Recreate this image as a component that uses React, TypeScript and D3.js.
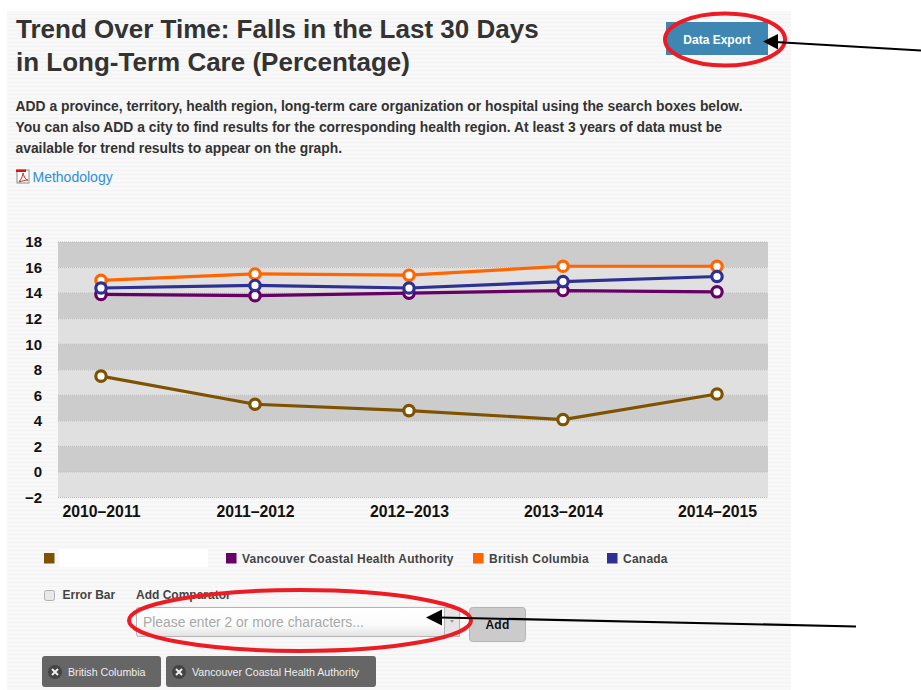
import { useEffect, useRef } from "react";
import * as d3 from "d3";

const years = ["2010–2011", "2011–2012", "2012–2013", "2013–2014", "2014–2015"];
const yTicks = [18, 16, 14, 12, 10, 8, 6, 4, 2, 0, -2];

const hiddenRegion = [7.5, 5.3, 4.8, 4.1, 6.1];
const vancouver = [13.9, 13.8, 14.0, 14.2, 14.1];
const britishColumbia = [15.0, 15.5, 15.4, 16.1, 16.1];
const canada = [14.4, 14.6, 14.4, 14.9, 15.3];

const seriesValues = [hiddenRegion, vancouver, britishColumbia, canada];
const seriesColors = ["#7f5200", "#660066", "#ff6600", "#2e3192"];

const legendNames = ["", "Vancouver Coastal Health Authority", "British Columbia", "Canada"];
const legendColors = ["#7f5200", "#660066", "#ff6600", "#2e3192"];
const legendX = [44, 226, 473, 607];

const introLines = [
  "ADD a province, territory, health region, long-term care organization or hospital using the search boxes below.",
  "You can also ADD a city to find results for the corresponding health region. At least 3 years of data must be",
  "available for trend results to appear on the graph.",
];
const titleLines = ["Trend Over Time: Falls in the Last 30 Days", "in Long-Term Care (Percentage)"];
const tagNames = ["British Columbia", "Vancouver Coastal Health Authority"];
const tagX = [42, 166];
const tagW = [119, 210];

const FONT = "'Liberation Sans', Arial, sans-serif";

export default function App() {
  const svgRef = useRef<SVGSVGElement>(null);

  useEffect(() => {
    if (!svgRef.current) return;
    const svg = d3.select(svgRef.current);
    svg.selectAll("*").remove();
    svg.style("font-family", FONT);

    const defs = svg.append("defs");

    // faint stripes of the page panel
    const stripes = defs
      .append("pattern")
      .attr("id", "stripes")
      .attr("width", 6)
      .attr("height", 4)
      .attr("patternUnits", "userSpaceOnUse");
    stripes.append("rect").attr("width", 6).attr("height", 4).attr("fill", "#f8f8f8");
    stripes.append("rect").attr("y", 2).attr("width", 6).attr("height", 1).attr("fill", "#f3f3f3");

    const inputGrad = defs.append("linearGradient").attr("id", "inputGrad").attr("x2", 0).attr("y2", 1);
    inputGrad.append("stop").attr("offset", "0%").attr("stop-color", "#ffffff");
    inputGrad.append("stop").attr("offset", "60%").attr("stop-color", "#fbfbfb");
    inputGrad.append("stop").attr("offset", "100%").attr("stop-color", "#e2e2e2");

    svg.append("rect").attr("x", 7).attr("y", 11).attr("width", 784).attr("height", 679).attr("fill", "url(#stripes)");

    // Title and intro
    titleLines.forEach((t, i) => {
      svg.append("text").attr("x", 16).attr("y", 38 + i * 33)
        .attr("font-size", 26).attr("font-weight", "bold").attr("fill", "#333").text(t);
    });
    introLines.forEach((t, i) => {
      svg.append("text").attr("x", 15.5).attr("y", 111 + i * 20.8)
        .attr("font-size", 13.86).attr("font-weight", "bold").attr("fill", "#333").text(t);
    });

    // pdf icon
    const pdf = svg.append("g").attr("transform", "translate(17,170)");
    pdf.append("rect").attr("width", 12).attr("height", 13).attr("fill", "#fff").attr("stroke", "#8a8a8a");
    pdf.append("rect").attr("x", -1).attr("y", -0.5).attr("width", 10).attr("height", 2.5).attr("fill", "#e01010");
    pdf.append("path").attr("d", "M2,12 C5,8 6,5 6,3 C7,7 9,10 11,10 C8,10 5,11 2,12 Z").attr("fill", "none").attr("stroke", "#d02020");
    svg.append("text").attr("x", 32.5).attr("y", 182).attr("font-size", 14).attr("fill", "#2f8fd8").text("Methodology");

    // Data export button
    svg.append("rect").attr("x", 666).attr("y", 22).attr("width", 102).attr("height", 33).attr("fill", "#3f87b3");
    svg.append("text").attr("x", 717).attr("y", 44).attr("text-anchor", "middle")
      .attr("font-size", 12).attr("font-weight", "bold").attr("fill", "#fff").text("Data Export");

    // Scales
    const x = d3.scalePoint<string>().domain(years).range([101, 717]);
    const y = d3.scaleLinear().domain([-2, 18]).range([497.5, 242]);

    // Plot bands
    const bands = yTicks.slice(0, -1);
    svg.append("g").selectAll("rect").data(bands).enter().append("rect")
      .attr("x", 58).attr("width", 710)
      .attr("y", (d) => y(d))
      .attr("height", (d) => y(d - 2) - y(d))
      .attr("fill", (d, i) => (i % 2 === 0 ? "#cccccc" : "#e0e0e0"));
    svg.append("g").selectAll("line").data(yTicks).enter().append("line")
      .attr("x1", 58).attr("x2", 768)
      .attr("y1", (d) => y(d)).attr("y2", (d) => y(d))
      .attr("stroke", "#b8b8b8").attr("stroke-dasharray", "1 1");

    // Axes
    const yAxis = svg.append("g").attr("transform", "translate(42,0)")
      .call(d3.axisLeft(y).tickValues(yTicks).tickSize(0).tickPadding(0).tickFormat(d3.format("d")));
    yAxis.select(".domain").remove();
    yAxis.selectAll("text").attr("font-family", FONT).attr("font-size", 15).attr("font-weight", "bold").attr("fill", "#111");

    const xAxis = svg.append("g").attr("transform", "translate(0,506)")
      .call(d3.axisBottom(x).tickSize(0).tickPadding(0));
    xAxis.select(".domain").remove();
    xAxis.selectAll("text").attr("font-family", FONT).attr("font-size", 15.8).attr("font-weight", "bold").attr("fill", "#111");

    // Lines and markers
    const line = d3.line<number>().x((_, i) => x(years[i]) as number).y((d) => y(d));
    seriesValues.forEach((values, s) => {
      const g = svg.append("g");
      g.append("path").attr("d", line(values)).attr("fill", "none")
        .attr("stroke", seriesColors[s]).attr("stroke-width", 3.2);
      g.selectAll("circle").data(values).enter().append("circle")
        .attr("cx", (_, i) => x(years[i]) as number)
        .attr("cy", (d) => y(d))
        .attr("r", 5.2).attr("fill", "#fff")
        .attr("stroke", seriesColors[s]).attr("stroke-width", 3.2);
    });

    // Legend
    legendNames.forEach((name, i) => {
      svg.append("rect").attr("x", legendX[i]).attr("y", 553).attr("width", 10.5).attr("height", 10.5).attr("fill", legendColors[i]);
      if (name) {
        svg.append("text").attr("x", legendX[i] + 16).attr("y", 563)
          .attr("font-size", 12).attr("font-weight", "bold").attr("letter-spacing", 0.24).attr("fill", "#444").text(name);
      }
    });
    svg.append("rect").attr("x", 59).attr("y", 549).attr("width", 149).attr("height", 18).attr("fill", "#fff");

    // Controls
    svg.append("rect").attr("x", 44.5).attr("y", 590.5).attr("width", 10).attr("height", 10).attr("rx", 2)
      .attr("fill", "#e8e8e8").attr("stroke", "#b0b0b0");
    svg.append("text").attr("x", 62.5).attr("y", 599).attr("font-size", 12).attr("font-weight", "bold").attr("fill", "#444").text("Error Bar");
    svg.append("text").attr("x", 136).attr("y", 599).attr("font-size", 12).attr("font-weight", "bold").attr("fill", "#444").text("Add Comparator");

    svg.append("rect").attr("x", 136.5).attr("y", 607.5).attr("width", 323).attr("height", 29).attr("rx", 2)
      .attr("fill", "url(#inputGrad)").attr("stroke", "#b5b5b5");
    svg.append("rect").attr("x", 444.5).attr("y", 607.5).attr("width", 15).attr("height", 29)
      .attr("fill", "#e4e4e4").attr("stroke", "#b5b5b5");
    svg.append("path").attr("d", "M450,620 h4 l-2,3 Z").attr("fill", "#999");
    svg.append("text").attr("x", 143).attr("y", 627).attr("font-size", 13.85).attr("fill", "#a8a8a8").text("Please enter 2 or more characters...");

    svg.append("rect").attr("x", 469.5).attr("y", 607.5).attr("width", 56).attr("height", 34).attr("rx", 3)
      .attr("fill", "#cbcbcb").attr("stroke", "#b5b5b5");
    svg.append("text").attr("x", 497.5).attr("y", 629).attr("text-anchor", "middle")
      .attr("font-size", 12).attr("font-weight", "bold").attr("letter-spacing", 0.3).attr("fill", "#111").text("Add");

    // Tags
    tagNames.forEach((name, i) => {
      svg.append("rect").attr("x", tagX[i]).attr("y", 656).attr("width", tagW[i]).attr("height", 31).attr("rx", 3).attr("fill", "#666");
      svg.append("circle").attr("cx", tagX[i] + 13).attr("cy", 672).attr("r", 7).attr("fill", "#444");
      svg.append("path")
        .attr("d", `M${tagX[i] + 10},669 l6,6 M${tagX[i] + 16},669 l-6,6`)
        .attr("stroke", "#eee").attr("stroke-width", 2);
      svg.append("text").attr("x", tagX[i] + 26).attr("y", 676).attr("font-size", 10.65).attr("fill", "#eee").text(name);
    });

    // Annotations
    const ellipses = [
      { cx: 725, cy: 39.5, rx: 60, ry: 26 },
      { cx: 300, cy: 620.5, rx: 171, ry: 30.5 },
    ];
    ellipses.forEach((e) => {
      svg.append("ellipse").attr("cx", e.cx).attr("cy", e.cy).attr("rx", e.rx).attr("ry", e.ry)
        .attr("fill", "none").attr("stroke", "#ed1c24").attr("stroke-width", 4);
    });
    const arrows = [
      { x1: 921, y1: 50.5, x2: 775, y2: 42, tip: "M763,41.5 L778,34 L778,49.5 Z" },
      { x1: 856, y1: 626.5, x2: 440, y2: 617.5, tip: "M426,617.5 L442,609.5 L442,625.5 Z" },
    ];
    arrows.forEach((a) => {
      svg.append("line").attr("x1", a.x1).attr("y1", a.y1).attr("x2", a.x2).attr("y2", a.y2)
        .attr("stroke", "#000").attr("stroke-width", 2.2);
      svg.append("path").attr("d", a.tip).attr("fill", "#000");
    });
  }, []);

  return (
    <svg
      ref={svgRef}
      width="921"
      height="690"
      style={{ position: "absolute", left: 0, top: 0, display: "block", background: "#fff" }}
    />
  );
}
